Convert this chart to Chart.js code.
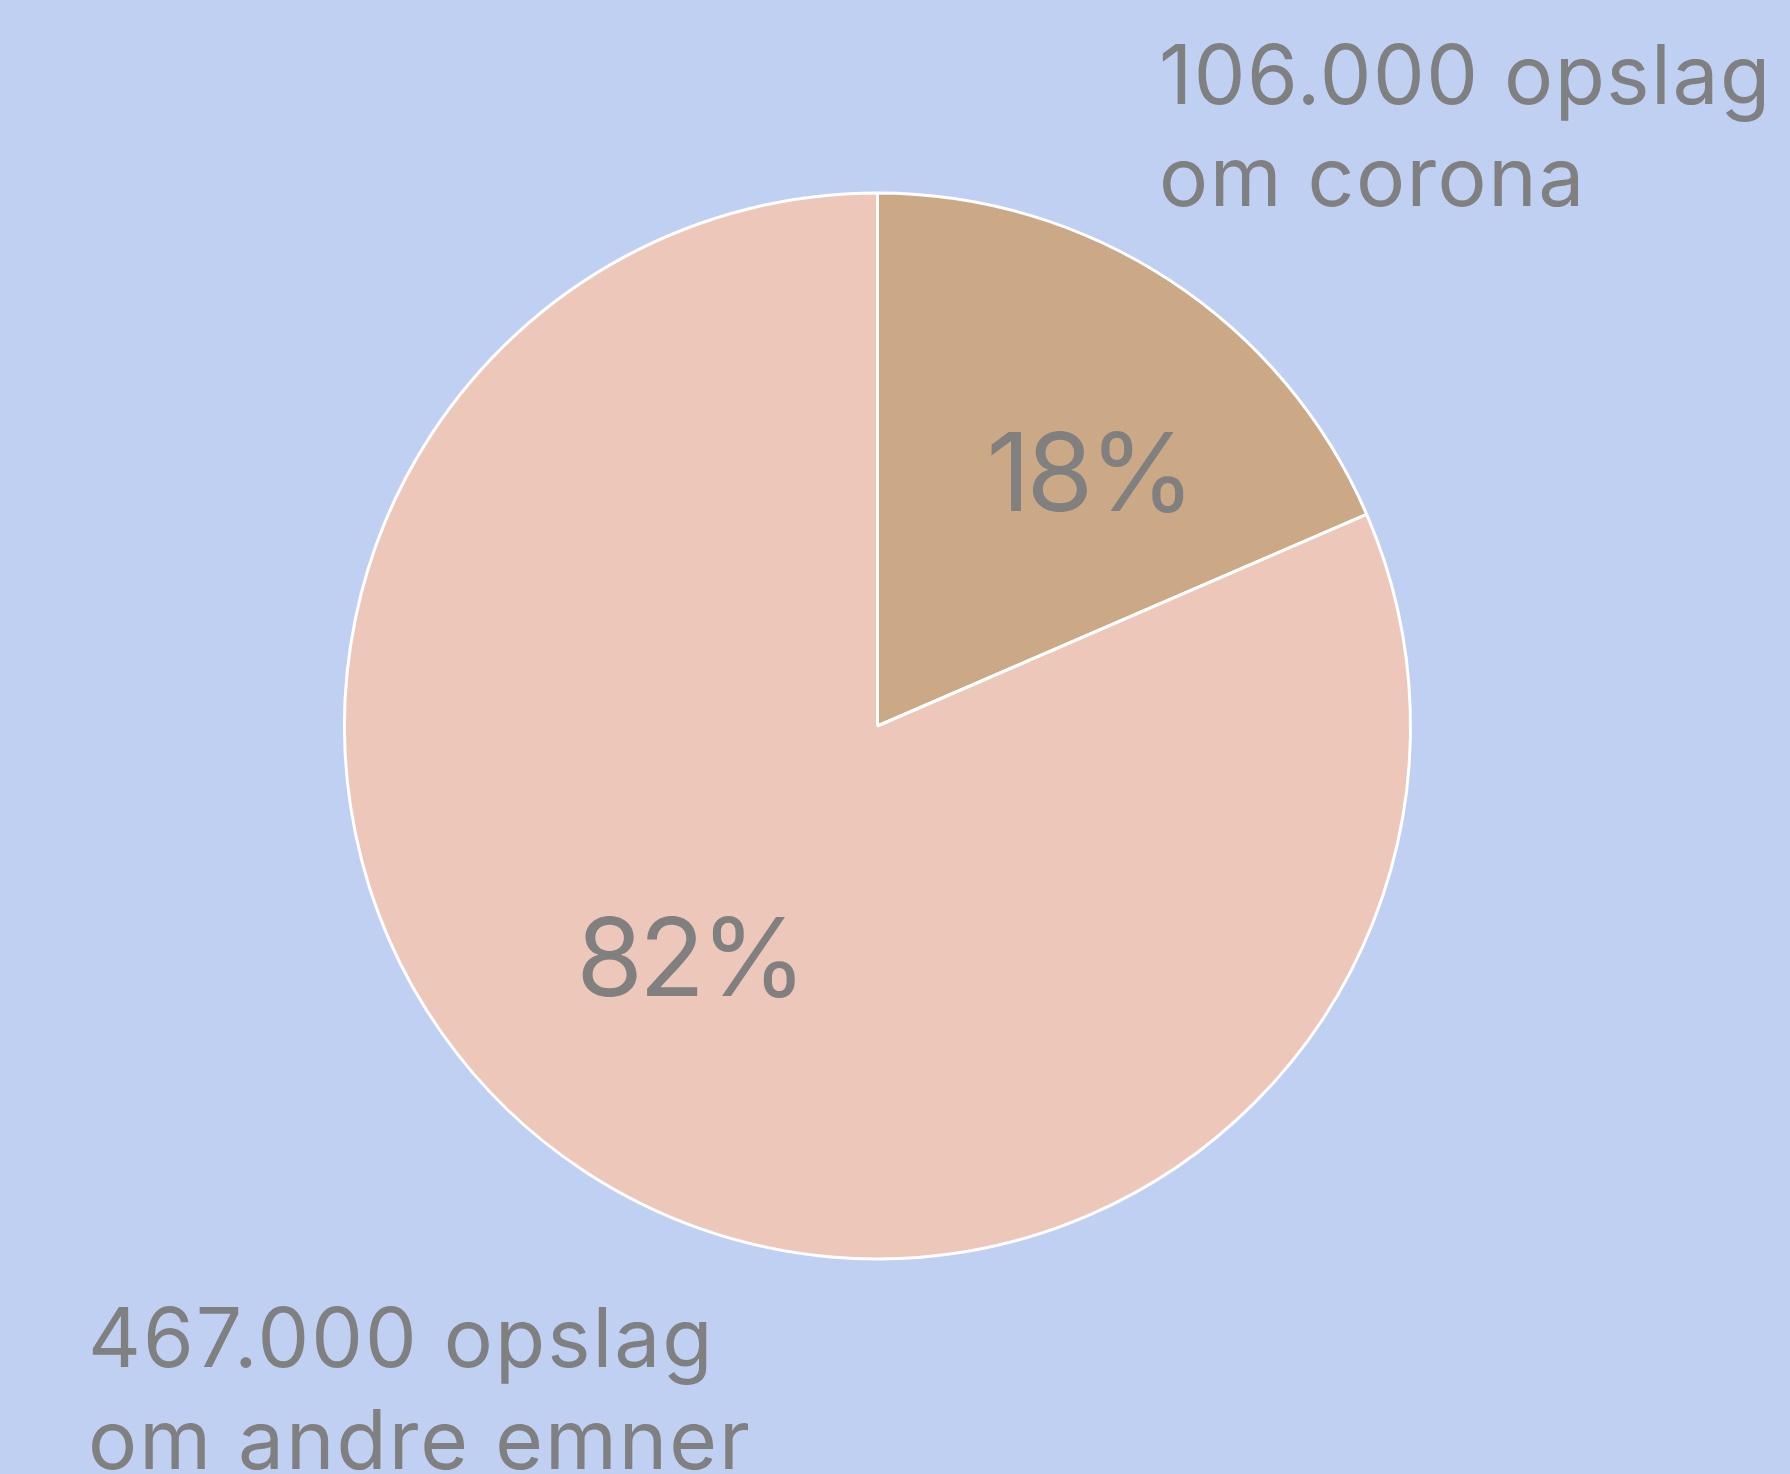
<!DOCTYPE html>
<html>
<head>
<meta charset="utf-8">
<script src="https://cdn.jsdelivr.net/npm/chart.js@4"></script>
<style>
  html, body { margin: 0; padding: 0; background: #C0D0F3; }
  #wrap { position: relative; width: 1790px; height: 1474px; overflow: hidden; }
  canvas { position: absolute; left: 0; top: 0; }
  .note { position: absolute; font-family: Inter, "Open Sans", sans-serif; font-size: 82px; line-height: 102px; color: #808080; white-space: nowrap; }
</style>
</head>
<body>
<div id="wrap">
  <canvas id="c" width="1790" height="1474"></canvas>
  <div class="note" id="n0" style="left:1159px; top:24px; letter-spacing:1.5px;"></div>
  <div class="note" id="n1" style="left:88px; top:1287px; letter-spacing:2px;"></div>
</div>
<script>
const categories = ["106.000 opslag om corona", "467.000 opslag om andre emner"];
const noteLines = [["106.000 opslag", "om corona"], ["467.000 opslag", "om andre emner"]];
const values = [106000, 467000];
const percentLabels = ["18%", "82%"];
const colors = ["#CBA886", "#EDC7BA"];

document.getElementById('n0').innerHTML = noteLines[0].join('<br>');
document.getElementById('n1').innerHTML = noteLines[1].join('<br>');

// label placement style: [radius fraction, angle shift in radians, extra y shift px]
const labelPlace = [[0.63, 0.10, 13], [0.56, 0.10, 6]];

const pctPlugin = {
  id: 'pct',
  afterDatasetsDraw(chart) {
    const ctx = chart.ctx;
    const meta = chart.getDatasetMeta(0);
    ctx.save();
    ctx.fillStyle = '#808080';
    ctx.font = '108px Inter, "Open Sans", sans-serif';
    try { ctx.letterSpacing = '-4px'; } catch (e) {}
    ctx.textAlign = 'center';
    ctx.textBaseline = 'middle';
    meta.data.forEach((arc, i) => {
      const p = arc.getProps(['x','y','startAngle','endAngle','outerRadius'], true);
      const mid = (p.startAngle + p.endAngle) / 2 + labelPlace[i][1];
      const r = p.outerRadius * labelPlace[i][0];
      ctx.fillText(percentLabels[i], p.x + Math.cos(mid) * r, p.y + Math.sin(mid) * r + labelPlace[i][2]);
    });
    ctx.restore();
  }
};

new Chart(document.getElementById('c'), {
  type: 'pie',
  data: {
    labels: categories,
    datasets: [{
      data: values,
      backgroundColor: colors,
      borderColor: '#FFFFFF',
      borderWidth: 3
    }]
  },
  options: {
    responsive: false,
    animation: false,
    layout: { padding: { left: 343, right: 378, top: 191, bottom: 213 } },
    plugins: { legend: { display: false }, tooltip: { enabled: false } }
  },
  plugins: [pctPlugin]
});
</script>
</body>
</html>
